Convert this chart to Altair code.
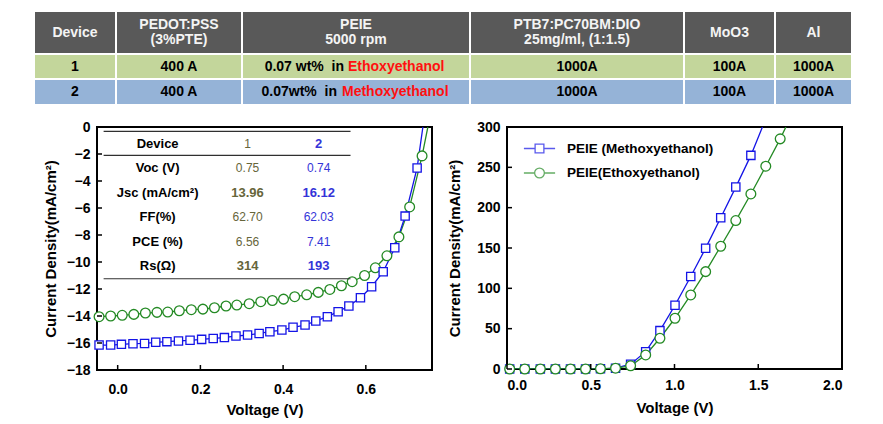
import altair as alt
import pandas as pd

FONT = "Liberation Sans"
BLUE = "#1414e6"
GREEN = "#248a24"
DEV1 = "#66653a"
DEV2 = "#3434d8"

# ---------------- data ----------------
# device table (top)
table_header = ["Device", "PEDOT:PSS\n(3%PTE)", "PEIE\n5000 rpm",
                "PTB7:PC70BM:DIO\n25mg/ml, (1:1.5)", "MoO3", "Al"]
table_row1 = ["1", "400 A", "0.07 wt%\u00a0 in", "1000A", "100A", "1000A"]
table_row2 = ["2", "400 A", "0.07wt%\u00a0 in", "1000A", "100A", "1000A"]
table_solvent = ["Ethoxyethanol", "Methoxyethanol"]

# illuminated J-V (left)
light_v_etho = [-0.045, -0.017, 0.011, 0.039, 0.067, 0.095, 0.121, 0.149, 0.178, 0.206,
                0.234, 0.262, 0.288, 0.318, 0.346, 0.374, 0.401, 0.428, 0.457, 0.485,
                0.513, 0.541, 0.567, 0.597, 0.623, 0.651, 0.680, 0.706, 0.736]
light_j_etho = [-14.05, -14.0, -13.95, -13.88, -13.78, -13.73, -13.71, -13.61, -13.53, -13.49,
                -13.39, -13.26, -13.19, -13.09, -12.94, -12.85, -12.75, -12.57, -12.43, -12.25,
                -12.03, -11.76, -11.46, -11.0, -10.43, -9.54, -8.14, -5.92, -2.14]
light_v_metho = [-0.045, -0.017, 0.009, 0.037, 0.065, 0.092, 0.119, 0.147, 0.175, 0.203,
                 0.231, 0.258, 0.286, 0.314, 0.342, 0.368, 0.397, 0.424, 0.453, 0.479,
                 0.507, 0.533, 0.559, 0.587, 0.614, 0.642, 0.670, 0.695, 0.724]
light_j_metho = [-16.15, -16.15, -16.1, -16.05, -16.03, -15.95, -15.9, -15.85, -15.8, -15.73,
                 -15.66, -15.6, -15.48, -15.41, -15.29, -15.16, -15.04, -14.84, -14.67, -14.37,
                 -14.05, -13.68, -13.26, -12.65, -11.83, -10.72, -8.95, -6.6, -3.03]
light_line_end_v = {"Ethoxyethanol": 0.750, "Methoxyethanol": 0.738}
light_line_end_j = {"Ethoxyethanol": 0.0, "Methoxyethanol": 0.0}

# inset table (left)
inset_labels = ["Device", "Voc (V)", "Jsc (mA/cm²)", "FF(%)", "PCE (%)", "Rs(Ω)"]
inset_dev1 = ["1", "0.75", "13.96", "62.70", "6.56", "314"]
inset_dev2 = ["2", "0.74", "16.12", "62.03", "7.41", "193"]
inset_bold = [False, False, True, False, False, True]

# dark J-V (right)
dark_v = [0.016, 0.106, 0.199, 0.289, 0.379, 0.469, 0.558, 0.648, 0.738, 0.828,
          0.913, 1.003, 1.097, 1.186, 1.276, 1.366, 1.456, 1.545, 1.631]
dark_j_metho = [0, 0, 0, 0, 0, 0, 0.2, 1, 6, 21.5, 47.6, 79, 114.6, 149.8, 187.4, 225.5, 264.8]
dark_j_etho = [0, 0, 0, 0, 0, 0, 0.2, 1, 4, 17.4, 38.1, 62.9, 91.8, 120.7, 152.2, 184, 217, 251.4, 285.3]
dark_line_end_v = {"Ethoxyethanol": 1.665, "Methoxyethanol": 1.525}
dark_line_end_j = {"Ethoxyethanol": 300, "Methoxyethanol": 300}

legend_names = ["PEIE (Methoxyethanol)", "PEIE(Ethoxyethanol)"]
series_order = ["Methoxyethanol", "Ethoxyethanol"]

# ---------------- layout constants ----------------
COL_W = [82, 126, 228, 214, 91, 77]
ROW_H = [43, 25, 26]
ROW_FILL = ["#595959", "#c3d69b", "#95b3d7"]
SPLIT_X = [310, 303]
SPLIT_GAP = [4, 5]

LW, LH = 335, 243
RW, RH = 335, 242

# ---------------- top table ----------------
edges = [0]
for w in COL_W:
    edges.append(edges[-1] + w)
tops = [0]
for h in ROW_H:
    tops.append(tops[-1] + h)
TH = tops[-1]
TABLE_W = edges[-1]

cells, txt_c, txt_c2, txt_r, txt_l = [], [], [], [], []
for r, row in enumerate([table_header, table_row1, table_row2]):
    for c, t in enumerate(row):
        cells.append(dict(x0=edges[c], x1=edges[c + 1], y0=tops[r], y1=tops[r + 1], fill=ROW_FILL[r]))
        yc = (tops[r] + tops[r + 1]) / 2
        tc = "#f4f4f4" if r == 0 else "black"
        if r > 0 and c == 2:
            txt_r.append(dict(x=SPLIT_X[r - 1], y=yc, t=t, tc="black"))
            txt_l.append(dict(x=SPLIT_X[r - 1] + SPLIT_GAP[r - 1], y=yc, t=table_solvent[r - 1], tc="#ff1010"))
        else:
            d = dict(x=(edges[c] + edges[c + 1]) / 2, y=yc, t=t, tc=tc)
            (txt_c2 if "\n" in t else txt_c).append(d)

tx = alt.Scale(domain=[0, TABLE_W], nice=False, zero=False)
ty = alt.Scale(domain=[0, TH], nice=False, zero=False, reverse=True)

t_rect = alt.Chart(pd.DataFrame(cells)).mark_rect(stroke="white", strokeWidth=2).encode(
    x=alt.X("x0:Q", scale=tx, axis=None), x2="x1:Q",
    y=alt.Y("y0:Q", scale=ty, axis=None), y2="y1:Q",
    fill=alt.Fill("fill:N", scale=None),
)


def ttext(rows, align, dy=0):
    return alt.Chart(pd.DataFrame(rows)).mark_text(
        align=align, baseline="middle", fontSize=14, fontWeight="bold",
        lineBreak="\n", lineHeight=15, font=FONT, dy=dy,
    ).encode(
        x=alt.X("x:Q", scale=tx, axis=None), y=alt.Y("y:Q", scale=ty, axis=None),
        text="t:N", color=alt.Color("tc:N", scale=None),
    )


table_chart = alt.layer(
    t_rect, ttext(txt_c, "center"), ttext(txt_c2, "center", -7.5),
    ttext(txt_r, "right"), ttext(txt_l, "left"),
).properties(width=TABLE_W, height=TH, view=alt.ViewBackground(stroke="transparent"))

# ---------------- helpers ----------------
color_scale = alt.Scale(domain=series_order, range=[BLUE, GREEN])
shape_scale = alt.Scale(domain=series_order, range=["square", "circle"])
YTITLE = "Current Density(mA/cm²)"


def make_df(v, j, name):
    return pd.DataFrame({"V": v, "J": j, "series": name})


def inward_ticks(xvals, yvals, X, Y, H):
    xt = alt.Chart(pd.DataFrame({"V": xvals})).mark_rule(color="black", strokeWidth=1.5).encode(
        x=X, y=alt.value(H), y2=alt.value(H - 5))
    yt = alt.Chart(pd.DataFrame({"J": yvals})).mark_rule(color="black", strokeWidth=1.5).encode(
        y=Y, x=alt.value(0), x2=alt.value(5))
    return [xt, yt]


# ---------------- left plot ----------------
l_pts = pd.concat([make_df(light_v_etho, light_j_etho, "Ethoxyethanol"),
                   make_df(light_v_metho, light_j_metho, "Methoxyethanol")])
l_ends = pd.DataFrame({"V": [light_line_end_v[s] for s in series_order],
                       "J": [light_line_end_j[s] for s in series_order],
                       "series": series_order})
l_line = pd.concat([l_pts, l_ends])

lxv = [0.0, 0.2, 0.4, 0.6]
lyv = list(range(-18, 1, 2))
lxs = alt.Scale(domain=[-0.05, 0.76], nice=False, zero=False)
lys = alt.Scale(domain=[-18, 0], nice=False, zero=False)
lxa = alt.Axis(values=lxv, format=".1f", title="Voltage (V)", labelPadding=12, titlePadding=6)
lya = alt.Axis(values=lyv, format="d", title=YTITLE, labelPadding=7, titlePadding=8)
lx = alt.X("V:Q", scale=lxs, axis=lxa)
ly = alt.Y("J:Q", scale=lys, axis=lya)

l_lines = alt.Chart(l_line).mark_line(strokeWidth=1.3, clip=True).encode(
    x=lx, y=ly, color=alt.Color("series:N", scale=color_scale, legend=None), detail="series:N")
l_marks = alt.Chart(l_pts).mark_point(filled=False, fill="white", strokeWidth=1.3, opacity=1).encode(
    x=lx, y=ly,
    color=alt.Color("series:N", scale=color_scale, legend=None),
    shape=alt.Shape("series:N", scale=shape_scale, legend=None),
    size=alt.Size("series:N", scale=alt.Scale(domain=series_order, range=[68, 95]), legend=None),
)

# inset table (positioned in data coordinates)
inset_x = [0.0966, 0.314, 0.486]
inset_j0, inset_step = -1.26, 1.81
inset_rule_j = [-0.32, -2.1, -11.24]
rules_df = pd.DataFrame({"V": -0.034, "V2": 0.563, "J": inset_rule_j})
i_rules = alt.Chart(rules_df).mark_rule(color="#303030", strokeWidth=1.2).encode(
    x=lx, x2="V2:Q", y=ly)

lab_rows, val_norm, val_bold = [], [], []
for i, lab in enumerate(inset_labels):
    jj = inset_j0 - i * inset_step
    lab_rows.append(dict(V=inset_x[0], J=jj, t=lab, tc="black"))
    tgt = val_bold if inset_bold[i] else val_norm
    tgt.append(dict(V=inset_x[1], J=jj, t=inset_dev1[i], tc=DEV1))
    if i == 0:
        val_bold.append(dict(V=inset_x[2], J=jj, t=inset_dev2[i], tc=DEV2))
    else:
        tgt.append(dict(V=inset_x[2], J=jj, t=inset_dev2[i], tc=DEV2))


def itext(rows, weight, size):
    return alt.Chart(pd.DataFrame(rows)).mark_text(
        fontSize=size, fontWeight=weight, font=FONT, baseline="middle", align="center").encode(
        x=lx, y=ly, text="t:N", color=alt.Color("tc:N", scale=None))


left = alt.layer(
    l_lines, l_marks, i_rules,
    itext(lab_rows, "bold", 13), itext(val_norm, "normal", 12), itext(val_bold, "bold", 13),
    *inward_ticks(lxv, lyv, lx, ly, LH),
).resolve_scale(color="independent").properties(width=LW, height=LH)

# ---------------- right plot ----------------
r_pts = pd.concat([make_df(dark_v[:len(dark_j_metho)], dark_j_metho, "Methoxyethanol"),
                   make_df(dark_v[:len(dark_j_etho)], dark_j_etho, "Ethoxyethanol")])
r_ends = pd.DataFrame({"V": [dark_line_end_v[s] for s in series_order],
                       "J": [dark_line_end_j[s] for s in series_order],
                       "series": series_order})
r_line = pd.concat([r_pts, r_ends])

rxv = [0.0, 0.5, 1.0, 1.5, 2.0]
ryv = list(range(0, 301, 50))
rxs = alt.Scale(domain=[0, 2], nice=False, zero=False)
rys = alt.Scale(domain=[0, 300], nice=False, zero=False)
rxa = alt.Axis(values=rxv, format=".1f", title="Voltage (V)", labelPadding=9, titlePadding=8)
rya = alt.Axis(values=ryv, format="d", title=YTITLE, labelPadding=7, titlePadding=14)
rx = alt.X("V:Q", scale=rxs, axis=rxa)
ry = alt.Y("J:Q", scale=rys, axis=rya)

r_lines = alt.Chart(r_line).mark_line(strokeWidth=1.3, clip=True).encode(
    x=rx, y=ry, color=alt.Color("series:N", scale=color_scale, legend=None), detail="series:N")
r_marks = alt.Chart(r_pts).mark_point(filled=False, fill="white", strokeWidth=1.3, opacity=1).encode(
    x=rx, y=ry,
    color=alt.Color("series:N", scale=color_scale, legend=None),
    shape=alt.Shape("series:N", scale=shape_scale, legend=None),
    size=alt.Size("series:N", scale=alt.Scale(domain=series_order, range=[52, 76]), legend=None),
)

SQ_PATH = "M-1.6,0H-0.45M0.45,0H1.6M-0.45,-0.45H0.45V0.45H-0.45Z"
CI_PATH = "M-1.6,0H-0.5M0.5,0H1.6M-0.5,0A0.5,0.5 0 1,1 0.5,0A0.5,0.5 0 1,1 -0.5,0Z"
leg = alt.Legend(title=None, orient="none", legendX=22, legendY=11, padding=0,
                 labelFont=FONT, labelFontSize=13.5, labelFontWeight="bold", labelColor="black",
                 symbolSize=380, symbolStrokeWidth=1.3, symbolFillColor="white",
                 labelOffset=17, rowPadding=6.5)
leg_df = pd.DataFrame({"series": legend_names})
r_legend = alt.Chart(leg_df).transform_filter("false").mark_point(
    filled=False, fill="white", strokeWidth=1.3).encode(
    shape=alt.Shape("series:N", scale=alt.Scale(domain=legend_names, range=[SQ_PATH, CI_PATH]), legend=leg),
    color=alt.Color("series:N", scale=alt.Scale(domain=legend_names, range=[BLUE, GREEN]), legend=leg),
)

right = alt.layer(
    r_lines, r_marks, r_legend, *inward_ticks(rxv, ryv, rx, ry, RH),
).resolve_scale(color="independent", shape="independent").properties(width=RW, height=RH)

# spacer that pushes the plot row right of the table's left edge
spacer = alt.Chart(pd.DataFrame({"s": [0]})).mark_point(opacity=0).encode(
    x=alt.value(0), y=alt.value(0)
).properties(width=1, height=1, view=alt.ViewBackground(stroke="transparent"))

# ---------------- compose ----------------
chart = alt.vconcat(
    table_chart,
    alt.hconcat(spacer, alt.hconcat(left, right, spacing=13), spacing=4),
    spacing=12,
).properties(
    padding={"left": 30, "top": 9, "right": 0, "bottom": 0}
).configure(font=FONT).configure_view(
    stroke="black", strokeWidth=2
).configure_axis(
    labelFont=FONT, labelFontSize=14, labelFontWeight="bold", labelColor="black",
    titleFont=FONT, titleFontSize=15, titleFontWeight="bold", titleColor="black",
    grid=False, ticks=False, tickSize=0, domain=False,
)

chart.save("out.html", embed_options={"renderer": "svg", "actions": False})
